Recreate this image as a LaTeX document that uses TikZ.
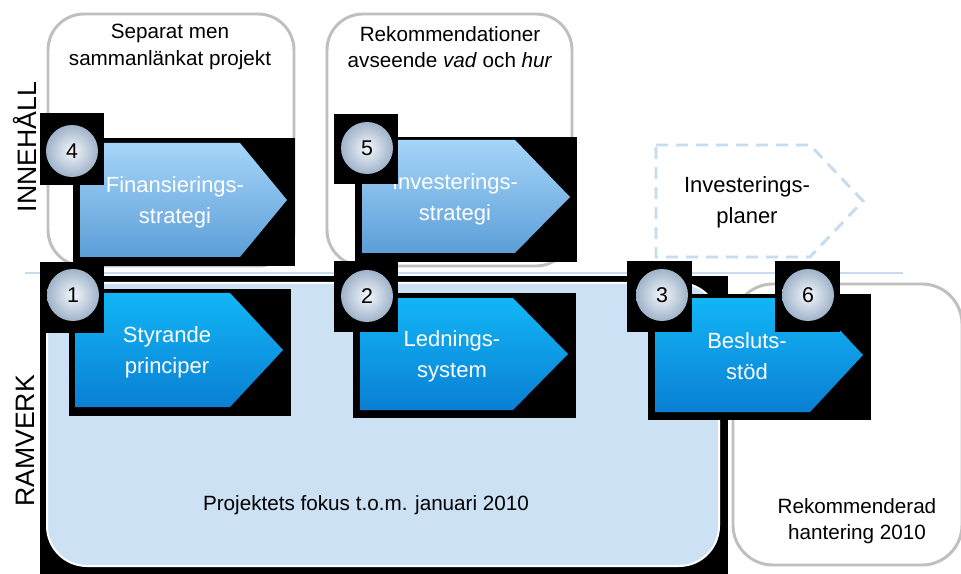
\documentclass[tikz,border=0pt]{standalone}
\usepackage{fontspec}
\setmainfont{Liberation Sans}
\definecolor{grayline}{HTML}{BFBFBF}
\definecolor{sepblue}{HTML}{C6DCF0}
\definecolor{focusblue}{HTML}{CCE1F4}
\definecolor{lighttop}{HTML}{A5D5F8}
\definecolor{lightbot}{HTML}{5C9ED8}
\definecolor{deeptop}{HTML}{12B6F6}
\definecolor{deepbot}{HTML}{0A7FD3}
\definecolor{balllight}{HTML}{F4F7FB}
\definecolor{balldark}{HTML}{9FB3CA}
\tikzset{
  frame/.style={draw=grayline, line width=2.2pt, rounded corners=27pt, fill=white},
  caption/.style={font=\fontsize{15.5}{20}\selectfont, align=center, inner sep=0pt},
  arrowtext/.style={font=\fontsize{16.5}{23}\selectfont, align=center, inner sep=0pt, text=white},
  lightarrow/.style={top color=lighttop, bottom color=lightbot, draw=none},
  deeparrow/.style={top color=deeptop, bottom color=deepbot, draw=none},
  numball/.style={circle, minimum size=39pt, inner sep=0pt, inner color=balllight,
    outer color=balldark, font=\fontsize{16}{16}\selectfont},
  sidelabel/.style={font=\fontsize{20}{20}\selectfont, rotate=90, inner sep=0pt}
}
\begin{document}
\begin{tikzpicture}[x=0.75pt, y=-0.75pt]
\useasboundingbox (0,0) rectangle (961,574);
\fill[white] (0,0) rectangle (961,574);

% upper content frames
\draw[frame] (48,14) rectangle (294,266);
\node[caption] (capA) at (170,47) {Separat men\\sammanlänkat projekt};
\draw[frame] (327,14) rectangle (572,266);
\node[caption] (capB) at (450,47) {Rekommendationer\\avseende \textit{vad} och \textit{hur}};

% side labels
\node[sidelabel] (inneh) at (25,147) {INNEHÅLL};
\node[sidelabel] (ramv) at (25,441) {RAMVERK};

% dividing line between the two levels
\draw[sepblue, line width=1.5pt] (25,273) -- (903,273);

% dashed outline: investment plans
\draw[sepblue, line width=2.2pt, dash pattern=on 9pt off 6pt]
  (656,145) -- (810,145) -- (863,201) -- (810,257) -- (656,257) -- cycle;
\node[caption, font=\fontsize{16.5}{23}\selectfont] (plan) at (747,202) {Investerings-\\planer};

% recommended handling frame
\draw[frame, rounded corners=30pt] (733,284) rectangle (962,565);
\node[caption] (rek) at (857,521) {Rekommenderad\\hantering 2010};

% project focus area
\fill[black] (40,276) rectangle (728,574);
\draw[fill=focusblue, draw=white, line width=1.5pt, rounded corners=30pt] (47,283) rectangle (719,566);
\node[caption] (fokus) at (366,505) {Projektets fokus t.o.m. januari 2010};

% step 4
\fill[black] (73,138) rectangle (295,266);
\path[lightarrow] (80,143) -- (240,143) -- (287,200) -- (240,257) -- (80,257) -- cycle;
\node[arrowtext] (fin) at (175,202) {Finansierings-\\strategi};
\fill[black] (40,113) rectangle (104,185);
\node[numball] (n4) at (72,151) {4};

% step 5
\fill[black] (355,137) rectangle (577,262);
\path[lightarrow] (362,140) -- (515,140) -- (570,197) -- (515,253) -- (362,253) -- cycle;
\node[arrowtext] (inv) at (455,199) {Investerings-\\strategi};
\fill[black] (334,114) rectangle (398,184);
\node[numball] (n5) at (367,148) {5};

% step 1
\fill[black] (69,289) rectangle (291,416);
\path[deeparrow] (75,293) -- (230,293) -- (283,350) -- (230,407) -- (75,407) -- cycle;
\node[arrowtext] (sty) at (167,352) {Styrande\\principer};
\fill[black] (40,262) rectangle (104,333);
\node[numball] (n1) at (73,295) {1};

% step 2
\fill[black] (353,293) rectangle (576,418);
\path[deeparrow] (360,298) -- (513,298) -- (568,354) -- (513,410) -- (360,410) -- cycle;
\node[arrowtext] (led) at (452,356) {Lednings-\\system};
\fill[black] (334,261) rectangle (398,332);
\node[numball] (n2) at (367,296) {2};

% step 3
\fill[black] (648,294) rectangle (871,420);
\path[deeparrow] (655,298) -- (810,298) -- (863,355) -- (810,412) -- (655,412) -- cycle;
\node[arrowtext] (bes) at (747,356) {Besluts-\\stöd};
\fill[black] (627,261) rectangle (692,332);
\node[numball] (n3) at (662,295) {3};

% step 6
\fill[black] (775,261) rectangle (840,332);
\node[numball] (n6) at (808,295) {6};
\end{tikzpicture}
\end{document}
